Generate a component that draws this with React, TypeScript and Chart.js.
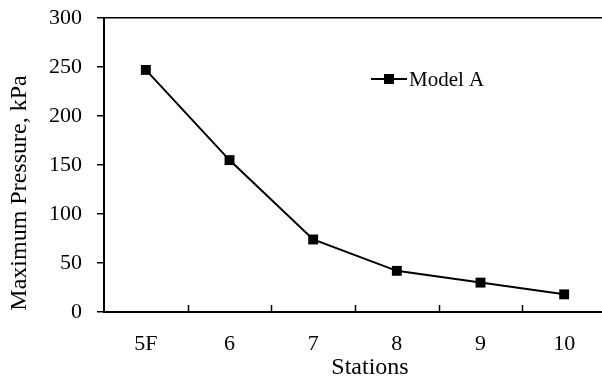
import React, { useEffect, useRef } from "react";
import { Chart, registerables } from "chart.js";

Chart.register(...registerables);

const stations = ["5F", "6", "7", "8", "9", "10"];
const modelA = [247, 155, 74, 42, 30, 18];
const yTicks = { min: 0, max: 300, step: 50 };
const seriesName = "Model A";
const xTitle = "Stations";
const yTitle = "Maximum Pressure, kPa";

const FONT = "'Liberation Serif', 'Times New Roman', serif";

const extrasPlugin = {
  id: "extras",
  afterDatasetsDraw(chart: any) {
    const { ctx, chartArea, scales } = chart;
    const x = scales.x;
    ctx.save();
    // inward x ticks at category boundaries
    ctx.strokeStyle = "#000";
    ctx.lineWidth = 1.5;
    for (let i = 1; i < stations.length; i++) {
      const px = Math.round((x.getPixelForValue(i - 1) + x.getPixelForValue(i)) / 2) + 0.5;
      ctx.beginPath();
      ctx.moveTo(px, chartArea.bottom);
      ctx.lineTo(px, chartArea.bottom - 7);
      ctx.stroke();
    }
    // legend
    const lx = chartArea.left + 267;
    const ly = chartArea.top + 61;
    ctx.lineWidth = 2;
    ctx.beginPath();
    ctx.moveTo(lx, ly);
    ctx.lineTo(lx + 36, ly);
    ctx.stroke();
    ctx.fillStyle = "#000";
    ctx.fillRect(lx + 18 - 5, ly - 5, 10, 10);
    ctx.font = `21px ${FONT}`;
    ctx.textBaseline = "middle";
    ctx.textAlign = "left";
    ctx.fillText(seriesName, lx + 38, ly + 1);
    // axis titles
    ctx.font = `24px ${FONT}`;
    ctx.textAlign = "center";
    ctx.fillText(xTitle, 370, 368);
    ctx.translate(20, 193);
    ctx.rotate(-Math.PI / 2);
    ctx.fillText(yTitle, 0, 0);
    ctx.restore();
  },
};

export default function App() {
  const ref = useRef<HTMLCanvasElement>(null);
  useEffect(() => {
    document.body.style.margin = "0";
    document.body.style.overflow = "hidden";
    const chart = new Chart(ref.current!, {
      type: "line",
      data: {
        labels: stations,
        datasets: [
          {
            label: seriesName,
            data: modelA,
            borderColor: "#000",
            backgroundColor: "#000",
            borderWidth: 2,
            pointStyle: "rect",
            pointRadius: 7,
            pointBorderWidth: 0,
            tension: 0,
          },
        ],
      },
      options: {
        responsive: false,
        animation: false,
        devicePixelRatio: 1,
        layout: { autoPadding: false, padding: { top: 18, right: 4, left: 0, bottom: 0 } },
        plugins: { legend: { display: false }, tooltip: { enabled: false } },
        scales: {
          x: {
            offset: true,
            grid: { display: false, drawTicks: false, offset: true },
            border: { display: true, color: "#000", width: 2 },
            ticks: { color: "#000", font: { family: FONT, size: 22 }, padding: 19 },
            afterFit: (s: any) => {
              s.height = 66;
            },
          },
          y: {
            min: yTicks.min,
            max: yTicks.max,
            grid: {
              color: (c: any) => (c.tick && c.tick.value === yTicks.max ? "#000" : "rgba(0,0,0,0)"),
              lineWidth: 1.5,
              tickColor: "#000",
              tickLength: 7,
              tickWidth: 1.5,
            },
            border: { display: true, color: "#000", width: 2 },
            ticks: {
              stepSize: yTicks.step,
              color: "#000",
              font: { family: FONT, size: 22 },
              padding: 15,
            },
            afterFit: (s: any) => {
              s.width = 104;
              s.paddingTop = 8;
              s.paddingBottom = 8;
            },
          },
        },
      },
      plugins: [extrasPlugin],
    });
    return () => chart.destroy();
  }, []);
  return (
    <div style={{ width: 602, height: 378, overflow: "hidden", position: "relative" }}>
      <canvas ref={ref} width={610} height={378} style={{ display: "block" }} />
    </div>
  );
}
